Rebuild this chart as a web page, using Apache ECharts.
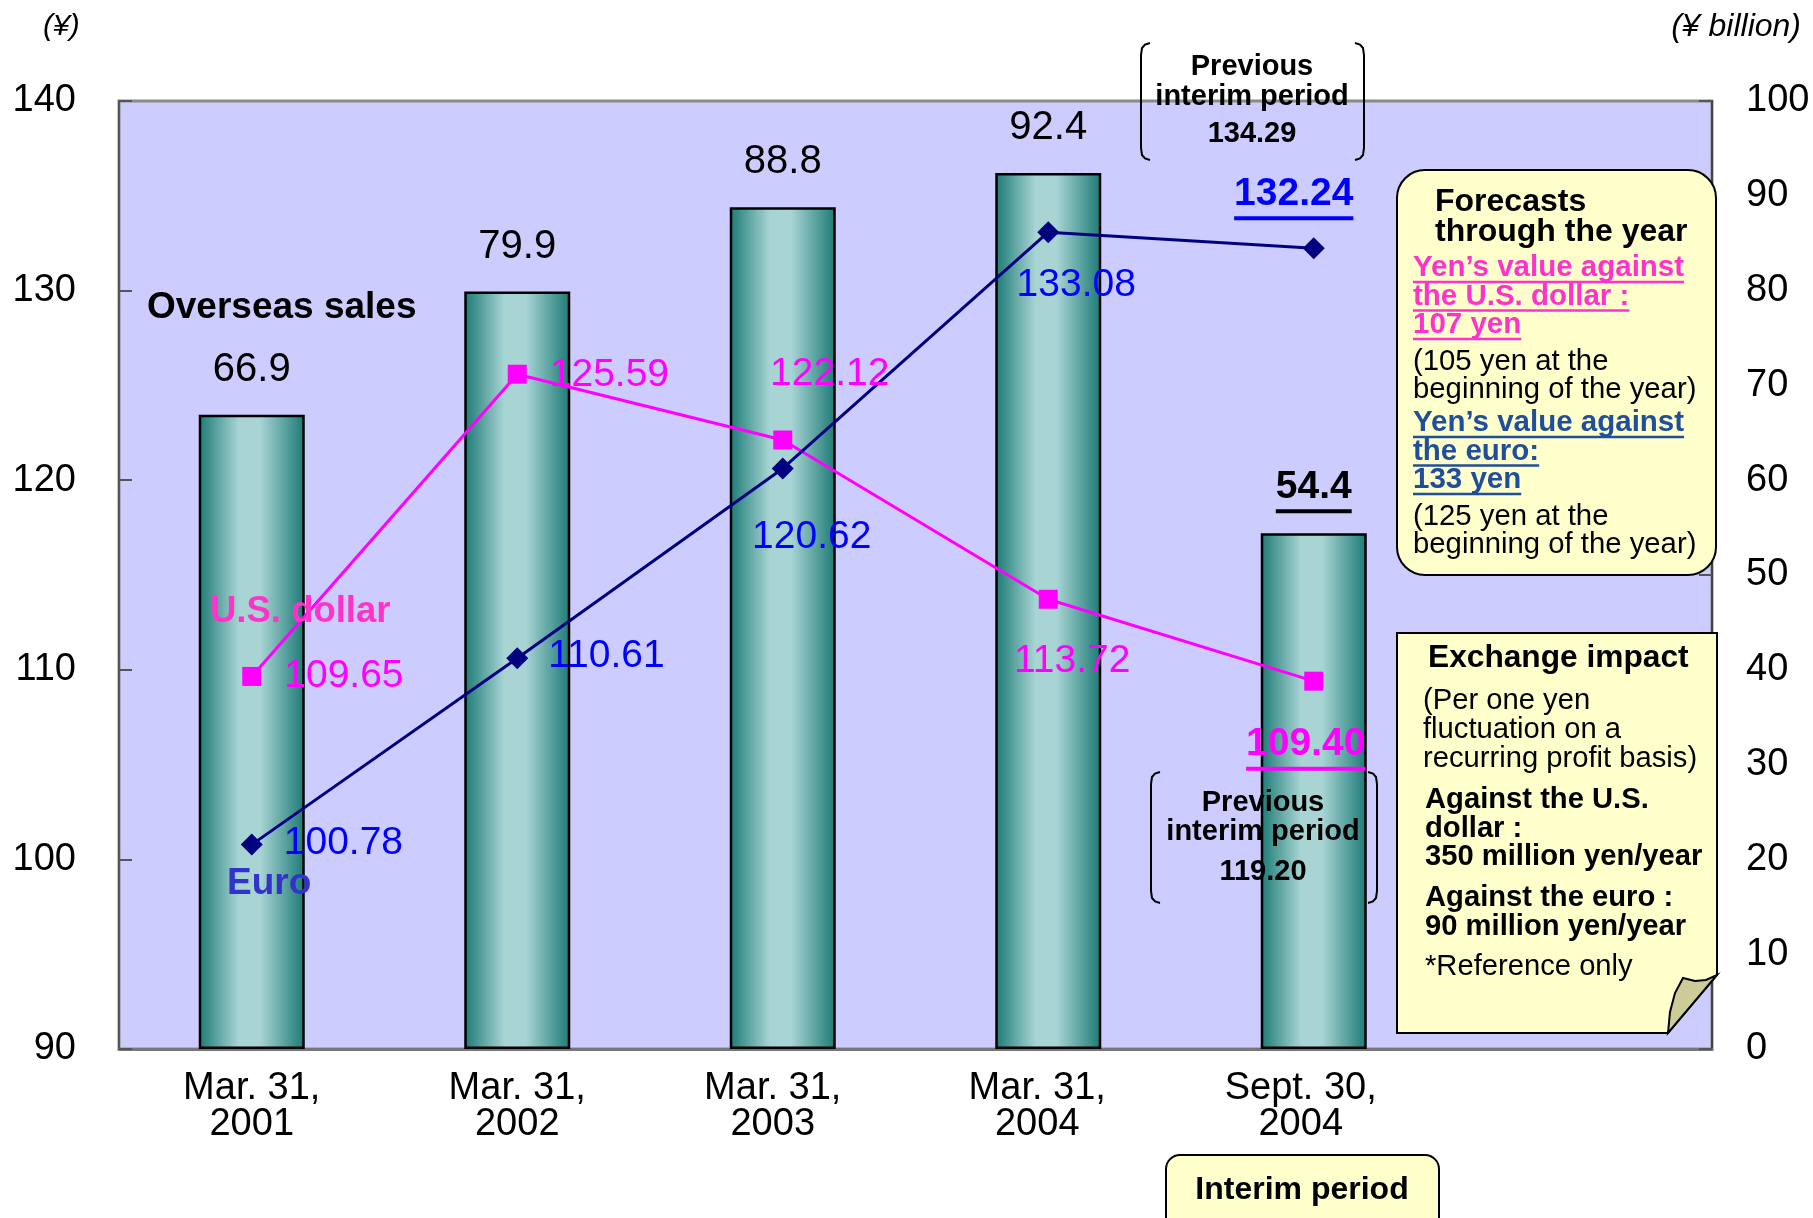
<!DOCTYPE html>
<html>
<head>
<meta charset="utf-8">
<title>Overseas sales and exchange rates</title>
<script src="https://cdn.jsdelivr.net/npm/echarts@6/dist/echarts.min.js"></script>
<style>
  html, body { margin: 0; padding: 0; background: #fff; }
  #chart { width: 1813px; height: 1218px; }
</style>
</head>
<body>
<div id="chart"></div>
<script>
// data
var categories = ["Mar. 31,\n2001", "Mar. 31,\n2002", "Mar. 31,\n2003", "Mar. 31,\n2004", "Sept. 30,\n2004", ""];
var overseasSales = [66.9, 79.9, 88.8, 92.4, 54.4];       // ¥ billion (right axis)
var usdRate = [109.65, 125.59, 122.12, 113.72, 109.40];   // yen per U.S. dollar
var euroRate = [100.78, 110.61, 120.62, 133.08, 132.24];  // yen per euro
var yenTicks = [90, 100, 110, 120, 130, 140];
var billionTicks = [0, 10, 20, 30, 40, 50, 60, 70, 80, 90, 100];

// label placement (layout only)
var categoryShift = [0, 0, 20, 22, 26, 0];
var usdLabelPlace = [
  { pos: "right", dist: 23, off: [0, 0] },
  { pos: "right", dist: 23, off: [0, 1] },
  { pos: "top", dist: 37, off: [47, 0] },
  { pos: "bottom", dist: 33, off: [24, 0] },
  { pos: "bottom", dist: 32, off: [-8, 0], underline: true }
];
var euroLabelPlace = [
  { pos: "right", dist: 21, off: [0, -1] },
  { pos: "right", dist: 20, off: [0, -2] },
  { pos: "bottom", dist: 38, off: [29, 0] },
  { pos: "bottom", dist: 23, off: [28, 0] },
  { pos: "top", dist: 17, off: [-20, 0], underline: true }
];

var FONT = '"Liberation Sans", Arial, Helvetica, sans-serif';
var ctx = document.createElement("canvas").getContext("2d");
function textWidth(str, size, weight) {
  ctx.font = (weight || "normal") + " " + size + "px " + FONT;
  return ctx.measureText(str).width;
}

function underlinedRich(text, size, color) {
  return {
    formatter: "{v|" + text + "}\n{u| }",
    rich: {
      v: { fontSize: size, fontWeight: "bold", color: color, fontFamily: FONT, lineHeight: 44 },
      u: { width: textWidth(text, size, "bold"), height: 4, lineHeight: 4, fontSize: 2, backgroundColor: color }
    }
  };
}

function lineData(values, places, color) {
  return values.map(function (v, i) {
    var p = places[i];
    var label = { show: true, position: p.pos, distance: p.dist, offset: p.off };
    if (p.underline) {
      var r = underlinedRich(v.toFixed(2), 39, color);
      label.formatter = r.formatter;
      label.rich = r.rich;
    }
    return { value: v, label: label };
  });
}

var barData = overseasSales.map(function (v, i) {
  var item = { value: v };
  if (i === overseasSales.length - 1) {
    var r = underlinedRich(v.toFixed(1), 39, "#000");
    item.label = { formatter: r.formatter, rich: r.rich, distance: 20 };
  }
  return item;
});

var categoryData = categories.map(function (c, i) {
  return { value: c, textStyle: { padding: [0, categoryShift[i], 0, 0] } };
});

// annotation helpers
function note(lines, x, y, step, size, weight, color, underline, align) {
  var out = [];
  lines.forEach(function (s, i) {
    var cy = y + i * step;
    out.push({
      type: "text", x: x, y: cy, z: 50,
      style: { text: s, fontSize: size, fontWeight: weight, fontFamily: FONT, fill: color,
               align: align || "left", verticalAlign: "middle" }
    });
    if (underline) {
      var w = textWidth(s, size, weight);
      var x0 = align === "center" ? x - w / 2 : x;
      out.push({
        type: "line", z: 50,
        shape: { x1: x0, y1: cy + underline, x2: x0 + w, y2: cy + underline },
        style: { stroke: color, lineWidth: 2.5 }
      });
    }
  });
  return out;
}

function bracket(x, y0, y1, dir) {
  var pts = [
    [x + 9 * dir, y0], [x + 4 * dir, y0 + 1.5], [x + 1 * dir, y0 + 5], [x, y0 + 12],
    [x, y1 - 12], [x + 1 * dir, y1 - 5], [x + 4 * dir, y1 - 1.5], [x + 9 * dir, y1]
  ];
  return { type: "polyline", z: 50, shape: { points: pts }, style: { fill: null, stroke: "#000", lineWidth: 2 } };
}

var graphics = [
  { type: "text", x: 43, y: 27, style: { text: "(¥)", fontSize: 30, fontStyle: "italic", fontFamily: FONT, fill: "#000", verticalAlign: "middle" } },
  { type: "text", x: 1801, y: 27, style: { text: "(¥ billion)", fontSize: 32, fontStyle: "italic", fontFamily: FONT, fill: "#000", align: "right", verticalAlign: "middle" } },

  // forecasts box
  { type: "rect", z: 40, shape: { x: 1397, y: 170, width: 319, height: 405, r: 28 },
    style: { fill: "#ffffcc", stroke: "#000", lineWidth: 2 } },
  // exchange impact box with folded corner
  { type: "polygon", z: 40, shape: { points: [[1397, 633], [1717, 633], [1717, 975], [1668, 1033], [1397, 1033]] },
    style: { fill: "#ffffcc", stroke: "#000", lineWidth: 2 } },
  { type: "polygon", z: 41, shape: { points: [[1668, 1033], [1670, 1012], [1675, 993], [1683, 978], [1695, 981], [1706, 980], [1717, 975]] },
    style: { fill: "#cccc99", stroke: "#000", lineWidth: 2 } },
  // interim period box
  { type: "rect", z: 40, shape: { x: 1166, y: 1155, width: 273, height: 80, r: 14 },
    style: { fill: "#ffffcc", stroke: "#000", lineWidth: 2 } },

  bracket(1141, 43, 160, 1), bracket(1364, 43, 160, -1),
  bracket(1151, 772, 903, 1), bracket(1377, 772, 903, -1)
];

graphics = graphics.concat(
  note(["Overseas sales"], 147, 308, 0, 37, "bold", "#000"),
  note(["U.S. dollar"], 210, 612, 0, 36.5, "bold", "#ff33cc"),
  note(["Euro"], 227, 884, 0, 37, "bold", "#3333cc"),
  note(["Previous", "interim period"], 1252, 67, 30, 29, "bold", "#000", 0, "center"),
  note(["134.29"], 1252, 134, 0, 29, "bold", "#000", 0, "center"),
  note(["Previous", "interim period"], 1263, 803, 29, 29, "bold", "#000", 0, "center"),
  note(["119.20"], 1263, 872, 0, 29, "bold", "#000", 0, "center"),

  note(["Forecasts", "through the year"], 1435, 202, 30, 32, "bold", "#000"),
  note(["Yen\u2019s value against", "the U.S. dollar :", "107 yen"], 1413, 268, 28.5, 29.5, "bold", "#ff33cc", 14),
  note(["(105 yen at the", "beginning of the year)"], 1413, 362, 28, 29.3, "normal", "#000"),
  note(["Yen\u2019s value against", "the euro:", "133 yen"], 1413, 423, 28.5, 29.5, "bold", "#1f4e9c", 14),
  note(["(125 yen at the", "beginning of the year)"], 1413, 517, 28, 29.3, "normal", "#000"),

  note(["Exchange impact"], 1428, 658, 0, 31.7, "bold", "#000"),
  note(["(Per one yen", "fluctuation on a", "recurring profit basis)"], 1423, 701, 29, 29.2, "normal", "#000"),
  note(["Against the U.S.", "dollar :", "350 million yen/year"], 1425, 800, 28.5, 29.2, "bold", "#000"),
  note(["Against the euro :", "90 million yen/year"], 1425, 898, 29, 29.2, "bold", "#000"),
  note(["*Reference only"], 1425, 967, 0, 29.2, "normal", "#000"),

  note(["Interim period"], 1302, 1190, 0, 32, "bold", "#000", 0, "center")
);

var chart = echarts.init(document.getElementById("chart"));

chart.setOption({
  animation: false,
  backgroundColor: "#fff",
  textStyle: { fontFamily: FONT },
  grid: {
    left: 119, right: 101, top: 101, bottom: 169,
    show: true, backgroundColor: "#ccccff", borderColor: "#8a8a8a", borderWidth: 3
  },
  xAxis: {
    type: "category",
    data: categoryData,
    axisLine: { lineStyle: { color: "#777", width: 3 } },
    axisTick: { inside: true, length: 10, lineStyle: { color: "#666", width: 1.5 } },
    axisLabel: { fontSize: 38, lineHeight: 36, margin: 22, color: "#000", fontFamily: FONT }
  },
  yAxis: [
    {
      type: "value", position: "left",
      min: yenTicks[0], max: yenTicks[yenTicks.length - 1], interval: yenTicks[1] - yenTicks[0],
      axisLine: { show: true, lineStyle: { color: "#555", width: 2 } },
      axisTick: { show: true, inside: true, length: 13, lineStyle: { color: "#555", width: 2 } },
      axisLabel: { fontSize: 38, margin: 43, color: "#000", fontFamily: FONT },
      splitLine: { show: false }
    },
    {
      type: "value", position: "right",
      min: billionTicks[0], max: billionTicks[billionTicks.length - 1], interval: billionTicks[1] - billionTicks[0],
      axisLine: { show: true, lineStyle: { color: "#444", width: 2 } },
      axisTick: { show: true, inside: true, length: 13, lineStyle: { color: "#555", width: 2 } },
      axisLabel: { fontSize: 38, margin: 34, color: "#000", fontFamily: FONT },
      splitLine: { show: false }
    }
  ],
  series: [
    {
      name: "Overseas sales",
      type: "bar",
      yAxisIndex: 1,
      barWidth: 106,
      data: barData,
      itemStyle: {
        color: new echarts.graphic.LinearGradient(0, 0, 1, 0, [
          { offset: 0, color: "#1b7a75" },
          { offset: 0.38, color: "#a8d4d4" },
          { offset: 0.58, color: "#a8d4d4" },
          { offset: 1, color: "#1b7a75" }
        ]),
        borderColor: "#000",
        borderWidth: 2.5
      },
      label: {
        show: true, position: "top", distance: 25,
        fontSize: 40, color: "#000", fontFamily: FONT,
        formatter: function (p) { return p.value.toFixed(1); }
      }
    },
    {
      name: "U.S. dollar",
      type: "line",
      yAxisIndex: 0,
      data: lineData(usdRate, usdLabelPlace, "#ff00ff"),
      symbol: "rect",
      symbolSize: 19,
      lineStyle: { color: "#ff00ff", width: 3 },
      itemStyle: { color: "#ff00ff" },
      label: {
        show: true, fontSize: 39, color: "#ff00ff", fontFamily: FONT,
        formatter: function (p) { return p.value.toFixed(2); }
      }
    },
    {
      name: "Euro",
      type: "line",
      yAxisIndex: 0,
      data: lineData(euroRate, euroLabelPlace, "#0000ff"),
      symbol: "diamond",
      symbolSize: 22,
      lineStyle: { color: "#000080", width: 3 },
      itemStyle: { color: "#000080" },
      label: {
        show: true, fontSize: 39, color: "#0000ff", fontFamily: FONT,
        formatter: function (p) { return p.value.toFixed(2); }
      }
    }
  ],
  graphic: graphics
});
</script>
</body>
</html>
